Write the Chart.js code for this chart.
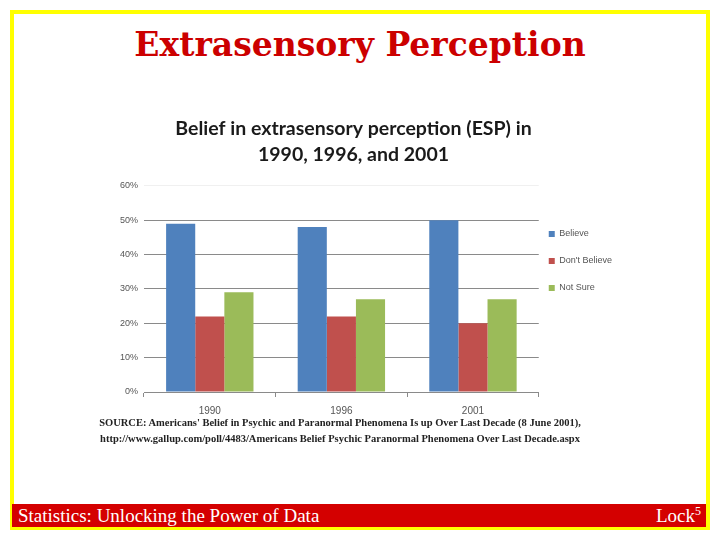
<!DOCTYPE html>
<html>
<head>
<meta charset="utf-8">
<script src="https://cdn.jsdelivr.net/npm/chart.js@4/dist/chart.umd.min.js"></script>
<style>
  html, body { margin: 0; padding: 0; background: #ffffff; }
  body { width: 720px; height: 540px; position: relative; overflow: hidden; }
  #frame { position: absolute; left: 10px; top: 10px; width: 700px; height: 520px; box-sizing: border-box; border: 4px solid #ffff00; }
  #title { position: absolute; left: 0; top: 25px; width: 720px; text-align: center; font-family: "DejaVu Serif", serif; font-weight: bold; font-size: 33px; color: #cc0000; line-height: 40px; }
  #footer { position: absolute; left: 12px; top: 504px; width: 694px; height: 23px; background: #d40000; }
  #footL { position: absolute; left: 18px; top: 505px; font-family: "Liberation Serif", serif; font-size: 19px; color: #ffffff; line-height: 22px; }
  #footR { position: absolute; right: 19px; top: 505px; font-family: "Liberation Serif", serif; font-size: 19px; color: #ffffff; line-height: 22px; }
  #footR sup { font-size: 12px; vertical-align: 7px; line-height: 0; }
  #src { position: absolute; left: 90px; top: 415px; width: 500px; text-align: center; font-family: "Liberation Serif", serif; font-weight: bold; font-size: 10.5px; color: #222; line-height: 16px; }
  #wrap { position: absolute; left: 85px; top: 108px; width: 540px; height: 314px; }
</style>
</head>
<body>
<div id="frame"></div>
<div id="title">Extrasensory Perception</div>
<div id="wrap"><canvas id="c" width="540" height="314"></canvas></div>
<div id="src">SOURCE: Americans' Belief in Psychic and Paranormal Phenomena Is up Over Last Decade (8 June 2001),<br>http://www.gallup.com/poll/4483/Americans Belief Psychic Paranormal Phenomena Over Last Decade.aspx</div>
<div id="footer"></div>
<div id="footL">Statistics: Unlocking the Power of Data</div>
<div id="footR">Lock<sup>5</sup></div>
<script>
const years = ["1990", "1996", "2001"];
const believe = [49, 48, 50];
const dontBelieve = [22, 22, 20];
const notSure = [29, 27, 27];
const yTicks = [0, 10, 20, 30, 40, 50, 60];

new Chart(document.getElementById("c"), {
  type: "bar",
  data: {
    labels: years,
    datasets: [
      { label: "Believe", data: believe, backgroundColor: "#4F81BD" },
      { label: "Don't Believe", data: dontBelieve, backgroundColor: "#C0504D" },
      { label: "Not Sure", data: notSure, backgroundColor: "#9BBB59" }
    ]
  },
  options: {
    responsive: false,
    animation: false,
    devicePixelRatio: 1,
    datasets: { bar: { barPercentage: 1.0, categoryPercentage: 0.664 } },
    layout: { padding: { left: 0, right: 3, top: 0, bottom: 0 } },
    plugins: {
      title: {
        display: true,
        text: ["Belief in extrasensory perception (ESP) in", "1990, 1996, and 2001"],
        font: { family: "Lato", size: 19.5, weight: "bold", lineHeight: 1.33 },
        color: "#1a1a1a",
        padding: { top: 8, bottom: 18 }
      },
      legend: {
        display: true,
        position: "right",
        align: "center",
        labels: {
          boxWidth: 6,
          boxHeight: 6,
          padding: 10,
          color: "#555555",
          font: { family: "Liberation Sans", size: 9, lineHeight: 17 / 9 },
          generateLabels: (chart) => Chart.defaults.plugins.legend.labels.generateLabels(chart).map(l => Object.assign(l, { text: [l.text] }))
        }
      },
      tooltip: { enabled: false }
    },
    scales: {
      x: {
        afterFit: (s) => { s.height = 30; },
        grid: { display: true, drawOnChartArea: false, drawTicks: true, tickLength: 5, color: "#8a8a8a" },
        border: { display: true, color: "#8a8a8a" },
        ticks: { color: "#555555", font: { family: "Liberation Sans", size: 10 }, padding: 8 }
      },
      y: {
        min: 0,
        max: 60,
        afterBuildTicks: (s) => { s.ticks = yTicks.map(v => ({ value: v })); },
        afterFit: (s) => { s.width = 59; },
        grid: { color: (ctx) => ctx.tick && ctx.tick.value === 60 ? "#f0f0f0" : "#8a8a8a", drawTicks: false },
        border: { display: false },
        ticks: { color: "#555555", font: { family: "Liberation Sans", size: 9 }, padding: 6, callback: (v) => v + "%" }
      }
    }
  }
});
</script>
</body>
</html>
